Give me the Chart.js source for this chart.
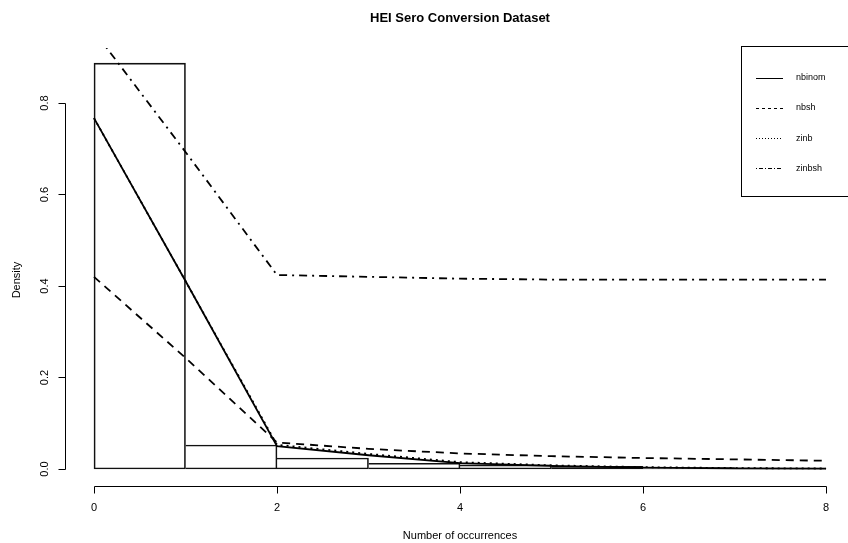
<!DOCTYPE html>
<html><head><meta charset="utf-8">
<script src="https://cdn.jsdelivr.net/npm/chart.js@4/dist/chart.umd.min.js"></script>
<style>html,body{margin:0;padding:0;background:#fff;overflow:hidden}canvas{display:block}</style>
</head><body>
<canvas id="c" width="848" height="543"></canvas>
<script>
const counts = [0,1,2,3,4,5,6,7,8];
const histDensity = [0.887,0.0525,0.024,0.0125,0.009,0.006,0.003,0.002];
const nbinom = [0.767,0.411,0.050,0.030,0.013,0.007,0.003,0.0015,0.0008];
const nbsh   = [0.420,0.243,0.058,0.044,0.034,0.028,0.024,0.021,0.018];
const zinb   = [0.767,0.411,0.053,0.033,0.015,0.008,0.004,0.002,0.001];
const zinbsh = [0.957,0.693,0.424,0.420,0.416,0.414,0.414,0.414,0.414];
const xTicks = [0,2,4,6,8];
const yTicks = [0.0,0.2,0.4,0.6,0.8];
const seriesNames = ['nbinom','nbsh','zinb','zinbsh'];

const FONT = '"Liberation Sans", Arial, sans-serif';
const pts = arr => arr.map((v,i)=>({x:counts[i], y:v}));
const histPts = histDensity.map((v,i)=>({x:counts[i]+0.5, y:v}));

const lineStyle = (dash, w) => ({type:'line', borderColor:'#000', borderWidth:w, borderDash:dash,
  pointRadius:0, tension:0, fill:false, order:1, clip:0});

const rAxes = {
  id:'rAxes',
  afterDraw(chart){
    const ctx = chart.ctx, x = chart.scales.x, y = chart.scales.y;
    ctx.save();
    ctx.strokeStyle = '#000'; ctx.fillStyle = '#000'; ctx.lineWidth = 1;
    const ax = 65.5;
    ctx.beginPath();
    ctx.moveTo(ax, Math.round(y.getPixelForValue(yTicks[0]))+0.5);
    ctx.lineTo(ax, Math.round(y.getPixelForValue(yTicks[yTicks.length-1]))+0.5);
    yTicks.forEach(t=>{ const py=Math.round(y.getPixelForValue(t))+0.5; ctx.moveTo(ax,py); ctx.lineTo(ax-7,py); });
    ctx.stroke();
    ctx.font = '11px '+FONT; ctx.textAlign='center'; ctx.textBaseline='middle';
    yTicks.forEach(t=>{ const py=y.getPixelForValue(t); ctx.save(); ctx.translate(45,py); ctx.rotate(-Math.PI/2); ctx.fillText(t.toFixed(1),0,0); ctx.restore(); });
    const ay = 486.5;
    ctx.beginPath();
    ctx.moveTo(Math.round(x.getPixelForValue(xTicks[0]))+0.5, ay);
    ctx.lineTo(Math.round(x.getPixelForValue(xTicks[xTicks.length-1]))+0.5, ay);
    xTicks.forEach(t=>{ const px=Math.round(x.getPixelForValue(t))+0.5; ctx.moveTo(px,ay); ctx.lineTo(px,ay+7); });
    ctx.stroke();
    xTicks.forEach(t=>{ ctx.fillText(String(t), x.getPixelForValue(t), 508); });
    ctx.fillText('Number of occurrences', 460, 536);
    ctx.save(); ctx.translate(17, 280); ctx.rotate(-Math.PI/2); ctx.fillText('Density',0,0); ctx.restore();
    ctx.font = 'bold 13px '+FONT;
    ctx.fillText('HEI Sero Conversion Dataset', 460, 18);
    ctx.lineWidth = 1;
    ctx.strokeRect(741.5, 46.5, 120, 150);
    const dashes = [[],[3,3],[1,2],[1,2,4,2]];
    ctx.font = '9px '+FONT; ctx.textAlign='left';
    seriesNames.forEach((n,i)=>{
      const ly = 77.5 + i*30.3;
      ctx.setLineDash(dashes[i]);
      ctx.beginPath(); ctx.moveTo(756, Math.round(ly)+0.5); ctx.lineTo(783, Math.round(ly)+0.5); ctx.stroke();
      ctx.setLineDash([]);
      ctx.fillText(n, 796, ly);
    });
    ctx.restore();
  }
};

new Chart(document.getElementById('c'), {
  data: {
    datasets: [
      {type:'bar', label:'hist', data:histPts, backgroundColor:'rgba(0,0,0,0)', borderColor:'#111',
       borderWidth: c => ({left: c.dataIndex===0 ? 1 : 0, top:1, bottom:1, right:1}),
       borderSkipped:false, barPercentage:1, categoryPercentage:1, order:10},
      Object.assign({label:seriesNames[0], data:pts(nbinom)}, lineStyle([],1.8)),
      Object.assign({label:seriesNames[1], data:pts(nbsh)}, lineStyle([8,6],1.8)),
      Object.assign({label:seriesNames[2], data:pts(zinb)}, lineStyle([2,4],1.8)),
      Object.assign({label:seriesNames[3], data:pts(zinbsh)}, lineStyle([2,5,8,5],1.8))
    ]
  },
  options: {
    responsive:false, animation:false,
    layout:{padding:{left:65, top:48, right:1, bottom:58}},
    plugins:{legend:{display:false}, tooltip:{enabled:false}, title:{display:false}},
    scales:{
      x:{type:'linear', min:-0.3169, max:8.2295, display:false, offset:false},
      y:{type:'linear', min:-0.035, max:0.9202, display:false}
    }
  },
  plugins:[rAxes]
});
</script>
</body></html>
